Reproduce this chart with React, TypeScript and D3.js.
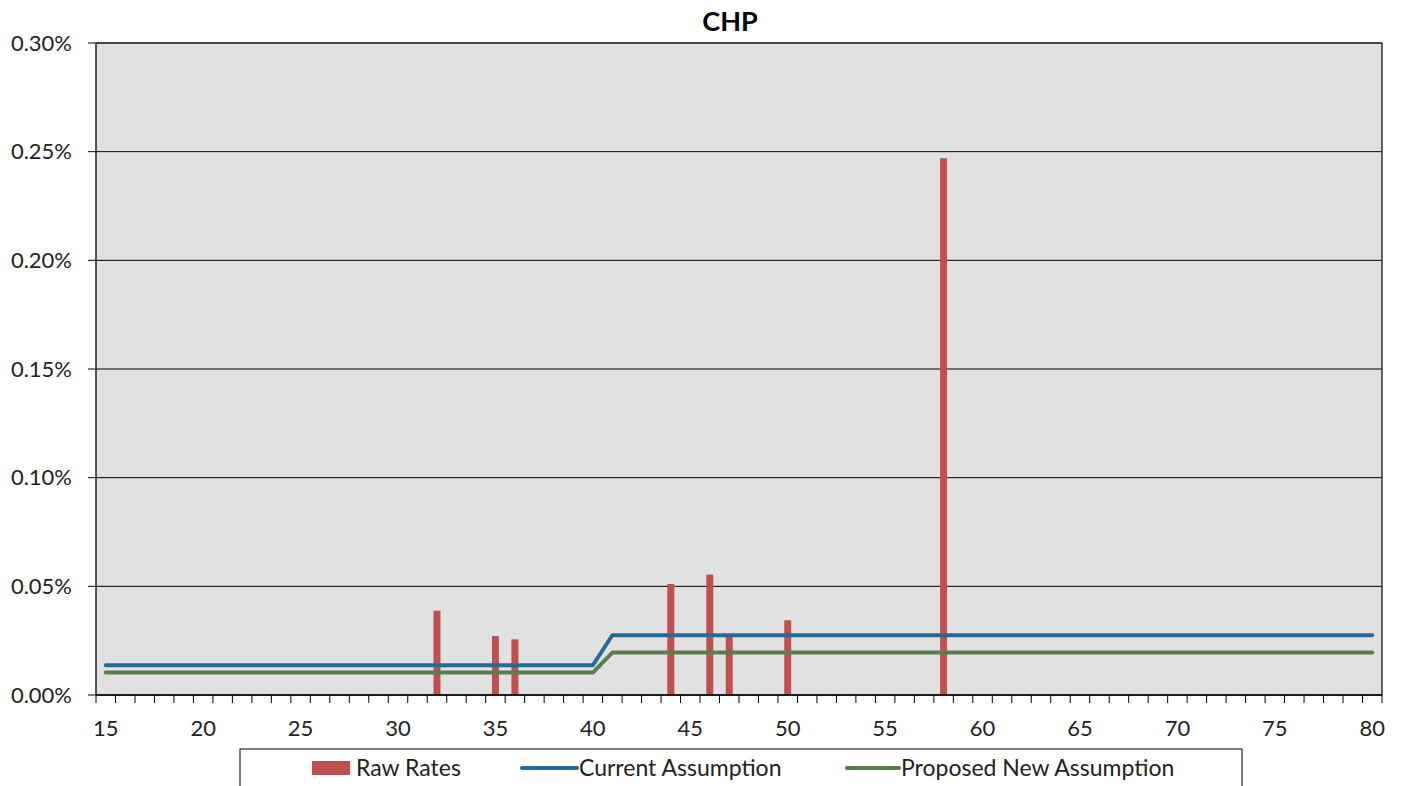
import React from "react";
import * as d3 from "d3";

const ages: number[] = [15,16,17,18,19,20,21,22,23,24,25,26,27,28,29,30,31,32,33,34,35,36,37,38,39,40,41,42,43,44,45,46,47,48,49,50,51,52,53,54,55,56,57,58,59,60,61,62,63,64,65,66,67,68,69,70,71,72,73,74,75,76,77,78,79,80];
const rawAges: number[] = [32, 35, 36, 44, 46, 47, 50, 58];
const rawValues: number[] = [0.000388, 0.000271, 0.000256, 0.000511, 0.000554, 0.000270, 0.000344, 0.002470];
const currentAges: number[] = [15, 40, 41, 80];
const currentValues: number[] = [0.000137, 0.000137, 0.000275, 0.000275];
const proposedAges: number[] = [15, 40, 41, 80];
const proposedValues: number[] = [0.000103, 0.000103, 0.000195, 0.000195];
const yTicks: number[] = [0, 0.0005, 0.001, 0.0015, 0.002, 0.0025, 0.003];
const xLabelAges: number[] = [15, 20, 25, 30, 35, 40, 45, 50, 55, 60, 65, 70, 75, 80];

const W = 1401, H = 786;
const M = { left: 96, right: 1382, top: 43, bottom: 695 };
const FONT = "Lato, sans-serif";
const FS = 22;
const LFS = 23;

export default function App() {
  const x = d3.scaleBand<number>().domain(ages).range([M.left, M.right]).padding(0);
  const y = d3.scaleLinear().domain([0, 0.003]).range([M.bottom, M.top]);
  const cx = (a: number) => (x(a) as number) + x.bandwidth() / 2;
  const line = d3.line<[number, number]>().x(d => cx(d[0])).y(d => y(d[1]));
  const cur = currentAges.map((a, i) => [a, currentValues[i]] as [number, number]);
  const prop = proposedAges.map((a, i) => [a, proposedValues[i]] as [number, number]);
  const barW = 7;
  const tickXs = ages.map(a => x(a) as number).concat([M.right]);

  return (
    <div style={{ position: "absolute", left: 0, top: 0 }}>
      <svg width={W} height={H} style={{ display: "block" }} fontFamily={FONT}>
        <rect x={0} y={0} width={W} height={H} fill="#ffffff" />
        <rect x={M.left} y={M.top} width={M.right - M.left} height={M.bottom - M.top} fill="#e1e1e1" />
        {yTicks.map(t => (
          <g key={t}>
            <line x1={M.left - 8} x2={M.right} y1={y(t)} y2={y(t)} stroke="#000" strokeWidth={1} />
            <text x={72} y={y(t)} dy="0.35em" textAnchor="end" fontSize={FS} fill="#222">{d3.format(".2%")(t)}</text>
          </g>
        ))}
        {rawAges.map((a, i) => (
          <rect key={a} x={cx(a) - barW / 2} y={y(rawValues[i])} width={barW} height={M.bottom - y(rawValues[i])} fill="#c0504d" />
        ))}
        <path d={line(prop) || ""} fill="none" stroke="#5a7d4e" strokeWidth={4} strokeLinecap="round" strokeLinejoin="round" />
        <path d={line(cur) || ""} fill="none" stroke="#226b9c" strokeWidth={4} strokeLinecap="round" strokeLinejoin="round" />
        <line x1={M.left} x2={M.left} y1={M.top} y2={M.bottom} stroke="#222" strokeWidth={1.5} />
        <line x1={M.right} x2={M.right} y1={M.top} y2={M.bottom} stroke="#333" strokeWidth={1.5} />
        <line x1={M.left} x2={M.right} y1={M.top} y2={M.top} stroke="#333" strokeWidth={1.5} />
        <line x1={M.left} x2={M.right} y1={M.bottom} y2={M.bottom} stroke="#000" strokeWidth={1.5} />
        {tickXs.map((tx, i) => (
          <line key={i} x1={tx} x2={tx} y1={M.bottom} y2={M.bottom + 8} stroke="#000" strokeWidth={1} />
        ))}
        {xLabelAges.map(a => (
          <text key={a} x={cx(a)} y={728} dy="0.35em" textAnchor="middle" fontSize={FS} fill="#222">{a}</text>
        ))}
        <text x={730} y={22} dy="0.35em" textAnchor="middle" fontSize={27} fontWeight="bold" fill="#000">CHP</text>
        <rect x={240} y={749} width={1002} height={50} fill="#fff" stroke="#000" strokeWidth={1} />
        <rect x={312} y={761} width={38} height={14} fill="#c0504d" />
        <text x={356} y={768} dy="0.35em" fontSize={LFS} fill="#222">Raw Rates</text>
        <line x1={522} x2={577} y1={768} y2={768} stroke="#226b9c" strokeWidth={4} strokeLinecap="round" />
        <text x={579} y={768} dy="0.35em" fontSize={LFS} fill="#222">Current Assumption</text>
        <line x1={847} x2={899} y1={768} y2={768} stroke="#5a7d4e" strokeWidth={4} strokeLinecap="round" />
        <text x={901} y={768} dy="0.35em" fontSize={LFS} fill="#222">Proposed New Assumption</text>
      </svg>
    </div>
  );
}
